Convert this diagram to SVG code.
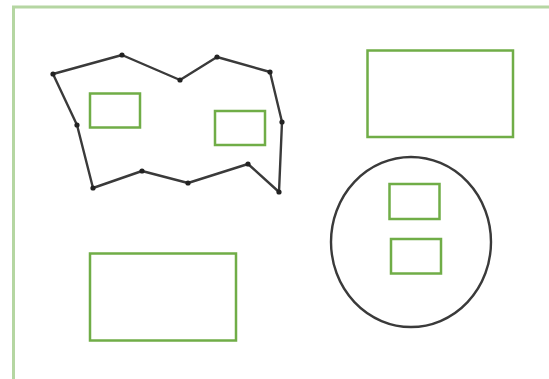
<svg xmlns="http://www.w3.org/2000/svg" width="549" height="379" viewBox="0 0 549 379">
<style>
.frame{fill:none;stroke:#b5d6a2;stroke-width:3}
.box{fill:none;stroke:#70ad47;stroke-width:2.5}
.shape{fill:none;stroke:#3a3a3a;stroke-width:2.4;stroke-linejoin:round}
.pt{fill:#222}
</style>
<rect width="549" height="379" fill="#fff"/>
<rect class="frame" x="13.5" y="7" width="560" height="373.5"/>
<g id="polygon">
<polygon class="shape" points="53,74 122,55 180,80 217,57 270,72 282,122 279,192 248,164 188,183 142,171 93,188 77,125"/>
<g class="pt">
<circle cx="53" cy="74" r="2.6"/><circle cx="122" cy="55" r="2.6"/><circle cx="180" cy="80" r="2.6"/><circle cx="217" cy="57" r="2.6"/><circle cx="270" cy="72" r="2.6"/><circle cx="282" cy="122" r="2.6"/><circle cx="279" cy="192" r="2.6"/><circle cx="248" cy="164" r="2.6"/><circle cx="188" cy="183" r="2.6"/><circle cx="142" cy="171" r="2.6"/><circle cx="93" cy="188" r="2.6"/><circle cx="77" cy="125" r="2.6"/>
</g>
</g>
<g id="circle"><ellipse class="shape" cx="411" cy="242" rx="80" ry="85"/></g>
<g id="box1"><rect class="box" x="90" y="93.5" width="50" height="34"/></g>
<g id="box2"><rect class="box" x="215" y="111" width="50" height="34"/></g>
<g id="box3"><rect class="box" x="367.5" y="50.5" width="145.5" height="86.5"/></g>
<g id="box4"><rect class="box" x="90" y="253.5" width="146" height="87"/></g>
<g id="box5"><rect class="box" x="389.5" y="184" width="50" height="35"/></g>
<g id="box6"><rect class="box" x="391" y="239" width="50" height="34.5"/></g>
<g id="connectors"></g>
</svg>
